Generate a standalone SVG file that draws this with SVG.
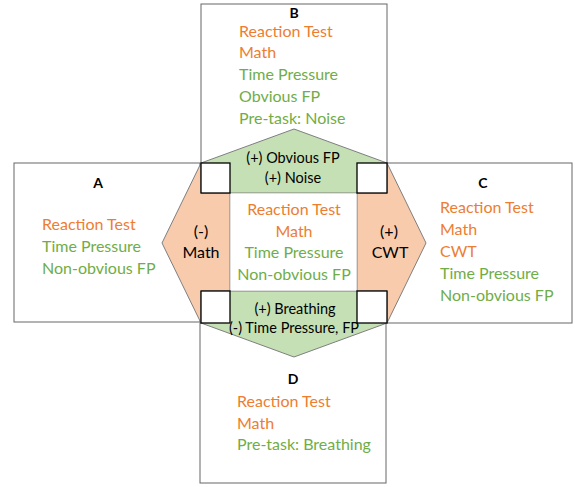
<svg xmlns="http://www.w3.org/2000/svg" width="575" height="487" viewBox="0 0 575 487">
<style>
.box{fill:#fff;stroke:#666;stroke-width:1}
.grn{fill:#C5E0B4;stroke:#7f7f7f;stroke-width:1}
.org{fill:#F8CBAD;stroke:#7f7f7f;stroke-width:1}
.sq{fill:#fff;stroke:#000;stroke-width:1.3}
text{font-family:Lato,"Open Sans","Liberation Sans",sans-serif;font-size:16px}
.o{fill:#ED7D31}
.g{fill:#70AD47}
.k{fill:#000}
.h{font-weight:bold;text-anchor:middle;font-size:14px}
.m{text-anchor:middle}
.s{font-size:14.5px}
</style>
<g id="boxes">
<g id="A"><rect class="box" x="14" y="163" width="186" height="159"/>
<text class="k h" x="98" y="188">A</text>
<text class="o" x="42" y="230">Reaction Test</text>
<text class="g" x="42" y="252">Time Pressure</text>
<text class="g" x="42" y="274">Non-obvious FP</text></g>
<g id="B"><rect class="box" x="201" y="4" width="186" height="159"/>
<text class="k h" x="294" y="18">B</text>
<text class="o" x="239" y="37">Reaction Test</text>
<text class="o" x="239" y="58">Math</text>
<text class="g" x="239" y="80">Time Pressure</text>
<text class="g" x="239" y="102">Obvious FP</text>
<text class="g" x="239" y="124">Pre-task: Noise</text></g>
<g id="C"><rect class="box" x="387" y="163" width="185" height="160"/>
<text class="k h" x="483" y="188">C</text>
<text class="o" x="440" y="213">Reaction Test</text>
<text class="o" x="440" y="235">Math</text>
<text class="o" x="440" y="257">CWT</text>
<text class="g" x="440" y="279">Time Pressure</text>
<text class="g" x="440" y="301">Non-obvious FP</text></g>
<g id="D"><rect class="box" x="200" y="323" width="186" height="160"/>
<text class="k h" x="293" y="384">D</text>
<text class="o" x="237" y="407">Reaction Test</text>
<text class="o" x="237" y="429">Math</text>
<text class="g" x="237" y="450">Pre-task: Breathing</text></g>
</g>
<g id="connectors">
<g id="left-arrow"><polygon class="org" points="201,163 162,243 201,323 230,323 230,163"/>
<text class="k m" x="201" y="237">(-)</text>
<text class="k m" x="201" y="258">Math</text></g>
<g id="right-arrow"><polygon class="org" points="387,163 426,243 387,323 357,323 357,163"/>
<text class="k m" x="389" y="237">(+)</text>
<text class="k m" x="390" y="258">CWT</text></g>
<g id="top-arrow"><polygon class="grn" points="201,163 294,129 387,163 387,193 201,193"/></g>
<g id="bottom-arrow"><polygon class="grn" points="201,291 387,291 387,323 294,357 201,323"/></g>
</g>
<g id="center">
<rect x="230.5" y="193.5" width="126" height="97" fill="#fff"/>
<text class="o m" x="294" y="215">Reaction Test</text>
<text class="o m" x="294" y="237">Math</text>
<text class="g m" x="294" y="258">Time Pressure</text>
<text class="g m" x="294" y="280">Non-obvious FP</text>
</g>
<g id="corners">
<rect class="sq" x="201" y="163" width="29" height="30"/>
<rect class="sq" x="357" y="163" width="30" height="30"/>
<rect class="sq" x="201" y="291" width="29" height="32"/>
<rect class="sq" x="357" y="291" width="30" height="32"/>
</g>
<g id="labels">
<text class="k m s" x="293" y="163">(+) Obvious FP</text>
<text class="k m s" x="293" y="183">(+) Noise</text>
<text class="k m s" x="295" y="314">(+) Breathing</text>
<text class="k m s" x="294" y="333">(-) Time Pressure, FP</text>
</g>
</svg>
